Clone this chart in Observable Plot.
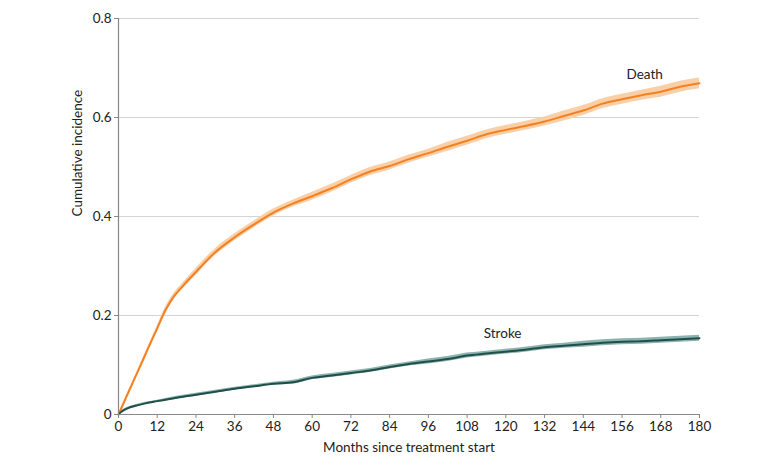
<!DOCTYPE html>
<html>
<head>
<meta charset="utf-8">
<script src="https://cdn.jsdelivr.net/npm/d3@7"></script>
<script src="https://cdn.jsdelivr.net/npm/@observablehq/plot@0.6"></script>
<style>
  html, body { margin: 0; padding: 0; background: #fff; }
  #chart { width: 780px; height: 470px; }
</style>
</head>
<body>
<div id="chart"></div>
<script>
// ---- data ----
const deathMonths = [0,3,6,9,12,14.5,17,20,24,30,36,42,48,54,60,66,72,78,84,90,96,102,108,114,120,126,132,138,144,150,156,162,168,174,180];
const deathValues = [0,0.044,0.087,0.131,0.174,0.21,0.237,0.26,0.288,0.328,0.358,0.384,0.408,0.426,0.441,0.457,0.475,0.491,0.502,0.516,0.528,0.541,0.553,0.566,0.575,0.583,0.592,0.603,0.614,0.628,0.637,0.645,0.652,0.662,0.669];
const deathHalfCI = [0,0.002,0.003,0.004,0.005,0.006,0.006,0.006,0.007,0.007,0.007,0.007,0.007,0.007,0.008,0.008,0.008,0.008,0.008,0.008,0.008,0.009,0.009,0.009,0.009,0.009,0.009,0.010,0.010,0.010,0.010,0.010,0.011,0.011,0.011];

const strokeMonths = [0,1,2,3,5,8,12,18,24,30,36,42,48,54,60,66,72,78,84,90,96,102,108,114,120,126,132,138,144,150,156,162,168,174,180];
const strokeValues = [0,0.006,0.010,0.013,0.017,0.022,0.027,0.034,0.040,0.046,0.052,0.057,0.062,0.065,0.074,0.079,0.084,0.089,0.096,0.102,0.107,0.112,0.119,0.123,0.127,0.131,0.136,0.139,0.142,0.145,0.147,0.148,0.150,0.152,0.154];
const strokeHalfCI = [0,0.001,0.002,0.002,0.002,0.002,0.002,0.003,0.003,0.003,0.003,0.003,0.003,0.004,0.004,0.004,0.004,0.004,0.004,0.004,0.005,0.005,0.005,0.005,0.005,0.005,0.005,0.005,0.006,0.006,0.006,0.006,0.006,0.006,0.006];

const xTicks = [0,12,24,36,48,60,72,84,96,108,120,132,144,156,168,180];
const yTicks = [0,0.2,0.4,0.6,0.8];
const gridValues = [0.2,0.4,0.6,0.8];
const seriesLabels = [
  {name: "Death", month: 163, value: 0.687},
  {name: "Stroke", month: 119, value: 0.164}
];
const xLabel = "Months since treatment start";
const yLabel = "Cumulative incidence";

// ---- tables ----
const death = deathMonths.map((m, i) => ({month: m, v: deathValues[i], lo: deathValues[i] - deathHalfCI[i], hi: deathValues[i] + deathHalfCI[i]}));
const stroke = strokeMonths.map((m, i) => ({month: m, v: strokeValues[i], lo: strokeValues[i] - strokeHalfCI[i], hi: strokeValues[i] + strokeHalfCI[i]}));

const orange = "#F5801F";
const orangeBand = "#F9CFA8";
const teal = "#1F4F4A";
const tealBand = "#8DB3AE";

const chart = Plot.plot({
  width: 780,
  height: 470,
  marginLeft: 118,
  marginRight: 81,
  marginTop: 18,
  marginBottom: 56,
  style: {fontFamily: "Lato, 'Noto Sans', sans-serif", fontSize: "13.5px", color: "#222", background: "#fff"},
  x: {domain: [0, 180]},
  y: {domain: [0, 0.8]},
  marks: [
    Plot.ruleY(gridValues, {stroke: "#d4d4d4", strokeWidth: 1}),
    Plot.areaY(death, {x: "month", y1: "lo", y2: "hi", fill: orangeBand, fillOpacity: 1, curve: "monotone-x"}),
    Plot.areaY(stroke, {x: "month", y1: "lo", y2: "hi", fill: tealBand, fillOpacity: 1, curve: "monotone-x"}),
    Plot.lineY(death, {x: "month", y: "v", stroke: orange, strokeWidth: 2, curve: "monotone-x"}),
    Plot.lineY(stroke, {x: "month", y: "v", stroke: teal, strokeWidth: 2, curve: "monotone-x"}),
    Plot.ruleX([0], {y1: 0, y2: 0.8, stroke: "#888", strokeWidth: 1.2}),
    Plot.ruleY([0], {stroke: "#888", strokeWidth: 1.2}),
    Plot.axisX(xTicks, {tickSize: 4, tickPadding: 3, stroke: "#888", label: null, fill: "#222", fontSize: 13.5}),
    Plot.axisY(yTicks, {tickSize: 4, tickPadding: 3, stroke: "#888", label: null, fill: "#222", fontSize: 13.5,
      tickFormat: d => d === 0 ? "0" : d.toFixed(1)}),
    Plot.text(seriesLabels, {x: "month", y: "value", text: "name", fill: "#222", fontSize: 13.5}),
    Plot.text([xLabel], {frameAnchor: "bottom", dy: 37, text: d => d, fill: "#222", fontSize: 13.5}),
    Plot.text([yLabel], {frameAnchor: "left", dx: -41, rotate: -90, text: d => d, fill: "#222", fontSize: 13.5})
  ]
});
document.getElementById("chart").appendChild(chart);
</script>
</body>
</html>
